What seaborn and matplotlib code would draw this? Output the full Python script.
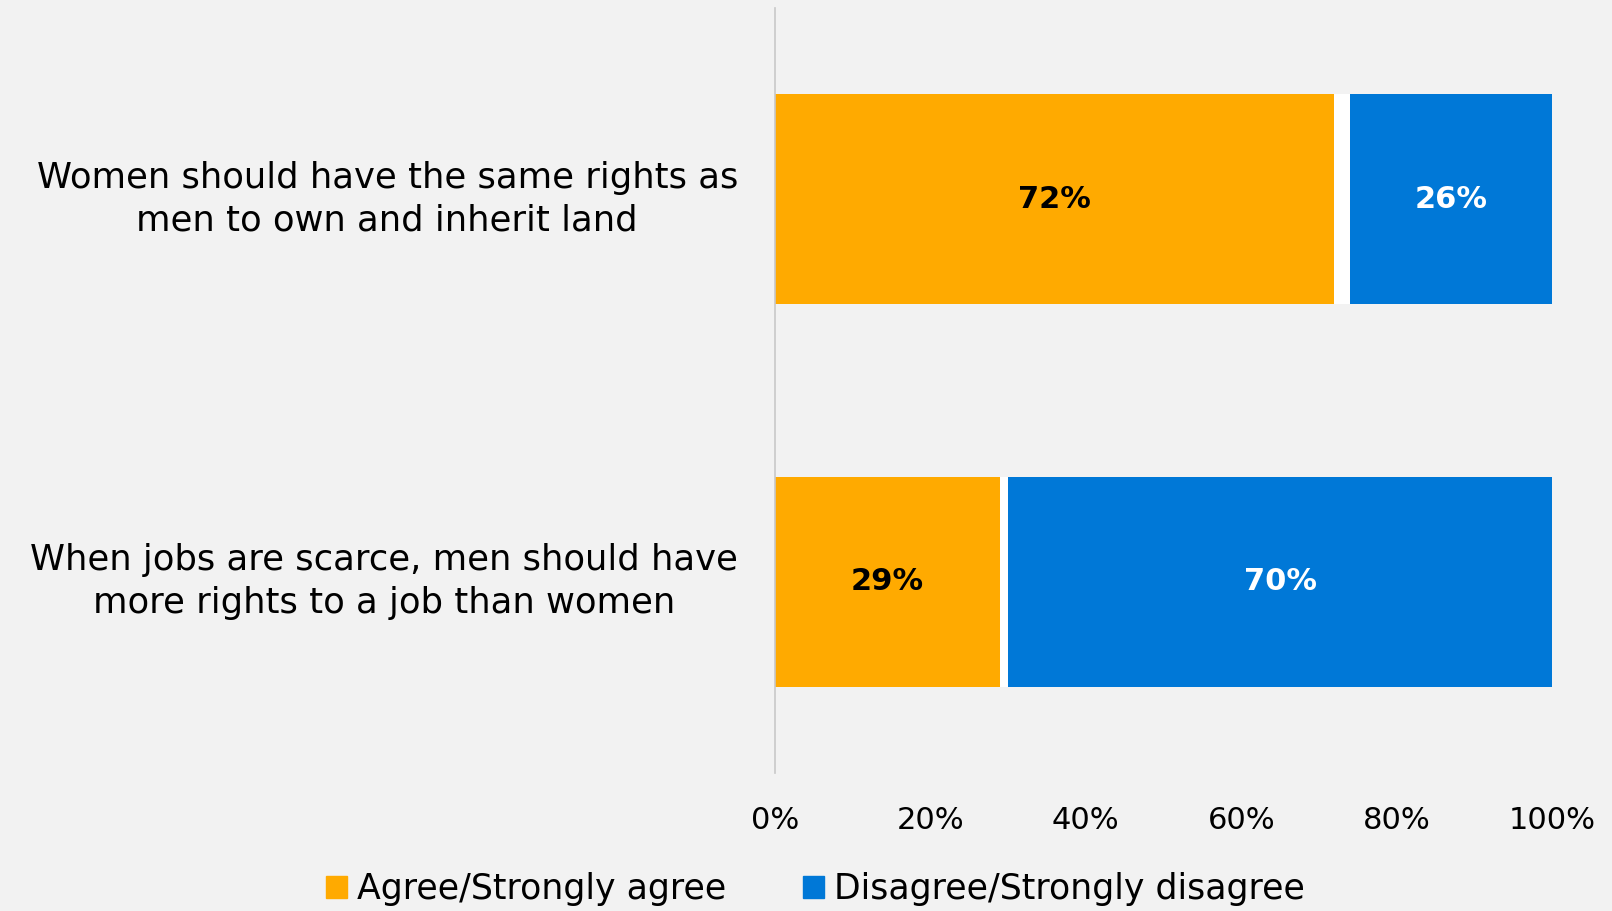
import numpy as np
import pandas as pd
import seaborn as sns
import matplotlib.pyplot as plt
from matplotlib.patches import Patch

statements = ['Women should have the same rights as\nmen to own and inherit land',
              'When jobs are scarce, men should have\nmore rights to a job than women']
agree = [72, 29]
dont_know = [2, 1]
disagree = [26, 70]

orange = '#FFAA00'
blue = '#0078D7'
bg = '#F2F2F2'

sns.set_style('white')
plt.rcParams['font.family'] = ['DejaVu Sans']
plt.rcParams['text.color'] = 'black'
plt.rcParams['xtick.color'] = 'black'

df = pd.DataFrame({'statement': statements, 'agree': agree,
                   'dk': dont_know, 'disagree': disagree})
df['cum_dk'] = df['agree'] + df['dk']
df['cum_all'] = df['cum_dk'] + df['disagree']

fig = plt.figure(figsize=(16.12, 9.11), dpi=100, facecolor=bg)
ax = fig.add_axes([775 / 1612, 1 - 773 / 911, 777 / 1612, 765 / 911])
ax.set_facecolor(bg)

# stacked by layering cumulative totals, widest first
sns.barplot(data=df, y='statement', x='cum_all', color=blue, width=0.55,
            saturation=1, orient='h', ax=ax, linewidth=0)
sns.barplot(data=df, y='statement', x='cum_dk', color='white', width=0.55,
            saturation=1, orient='h', ax=ax, linewidth=0)
sns.barplot(data=df, y='statement', x='agree', color=orange, width=0.55,
            saturation=1, orient='h', ax=ax, linewidth=0)

ax.set_xlim(0, 100)
ax.set_ylim(1.5, -0.5)
ax.set_xticks(np.arange(0, 101, 20))
ax.set_xticklabels([f'{t}%' for t in range(0, 101, 20)], fontsize=22)
ax.tick_params(axis='x', length=0, pad=24, labelcolor='black')
ax.set_yticks([])
ax.set_xlabel('')
ax.set_ylabel('')
for s in ['top', 'right', 'bottom']:
    ax.spines[s].set_visible(False)
ax.spines['left'].set_color('#C8C8C8')
ax.spines['left'].set_linewidth(1.2)

for i, txt in enumerate(statements):
    ax.text(-37 / 777, i, txt, transform=ax.get_yaxis_transform(),
            ha='right', va='center', multialignment='center', fontsize=25.5,
            linespacing=1.33, color='black')
    ax.text(agree[i] / 2, i, f'{agree[i]}%', ha='center', va='center',
            fontsize=22, fontweight='bold', color='black')
    ax.text(df['cum_dk'][i] + disagree[i] / 2, i, f'{disagree[i]}%',
            ha='center', va='center', fontsize=22, fontweight='bold', color='white')

handles = [Patch(color=orange, label='Agree/Strongly agree'),
           Patch(color=blue, label='Disagree/Strongly disagree')]
fig.legend(handles=handles, loc='center', bbox_to_anchor=(0.506, 1 - 889 / 911),
           ncol=2, frameon=False, fontsize=25, handlelength=0.6, handleheight=0.6,
           handletextpad=0.3, columnspacing=2.2, labelcolor='black')

fig.savefig('out.png', dpi=100, facecolor=bg)
